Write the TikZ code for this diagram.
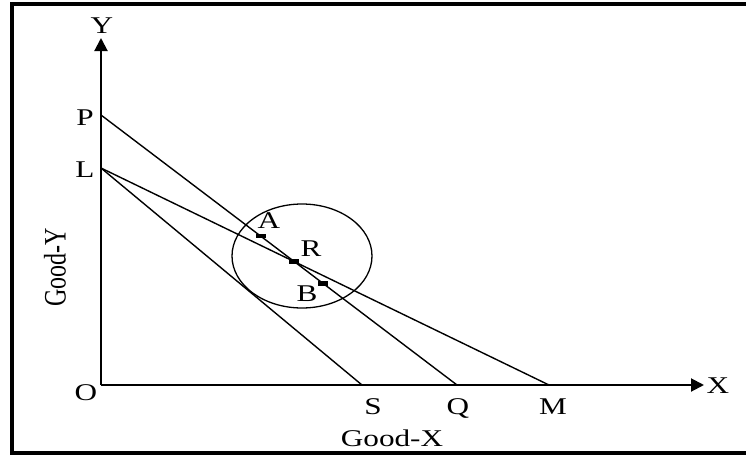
\documentclass[tikz,border=0pt]{standalone}
\usepackage{fontspec}
\setmainfont{Liberation Serif}
\usetikzlibrary{arrows.meta,calc}

\begin{document}
\begin{tikzpicture}[x=0.5pt, y=-0.5pt,
        lbl/.style={inner sep=0pt, xscale=1.3, font=\fontsize{12}{14}\selectfont},
        axis/.style={line width=1pt, -{Triangle[length=6.5pt, width=6.5pt]}},
        budget/.style={line width=0.7pt},
        pointbox/.style={fill=black, minimum width=5pt, minimum height=2.2pt, inner sep=0pt}
    ]
        \useasboundingbox (0,0) rectangle (746,456);
        % frame, open on the right
        \draw[line width=1.8pt] (760,4) -- (12,4) -- (12,453) -- (760,453);

        % axes and intercepts
        \coordinate (O) at (101,385);
        \coordinate (Ytip) at (101,38);
        \coordinate (Xtip) at (704,385);
        \coordinate (P) at (101,115);
        \coordinate (L) at (101,168);
        \coordinate (S) at (362,385);
        \coordinate (Q) at (457,385);
        \coordinate (M) at (549,385);

        \draw[axis] (O) -- (Ytip);
        \draw[axis] (O) -- (Xtip);

        \draw[budget] (P) -- (Q);
        \draw[budget] (L) -- (M);
        \draw[budget] (L) -- (S);

        \draw[line width=0.65pt] (302,256) ellipse [x radius=70, y radius=52];

        % points on the budget line PQ
        \node[pointbox] (ptA) at ($(P)!0.449!(Q)$) {};
        \node[pointbox] (ptR) at (intersection of P--Q and L--M) {};
        \node[pointbox] (ptB) at ($(P)!0.624!(Q)$) {};

        \node[lbl] (labY) at (102,26) {Y};
        \node[lbl] (labX) at (718,386) {X};
        \node[lbl] (labO) at (86,393) {O};
        \node[lbl] (labP) at (85,118) {P};
        \node[lbl] (labL) at (85,170) {L};
        \node[lbl] (labS) at (373,407) {S};
        \node[lbl] (labQ) at (458,408) {Q};
        \node[lbl] (labM) at (553,407) {M};
        \node[lbl] (labA) at (269,221) {A};
        \node[lbl] (labR) at (311,249) {R};
        \node[lbl] (labB) at (307,294) {B};
        \node[lbl] (goodx) at (392,438) {Good-X};
        \node[inner sep=0pt, xscale=1.3, rotate=90, font=\fontsize{12}{14}\selectfont] (goody) at (55,267) {Good-Y};
    \end{tikzpicture}
\end{document}
